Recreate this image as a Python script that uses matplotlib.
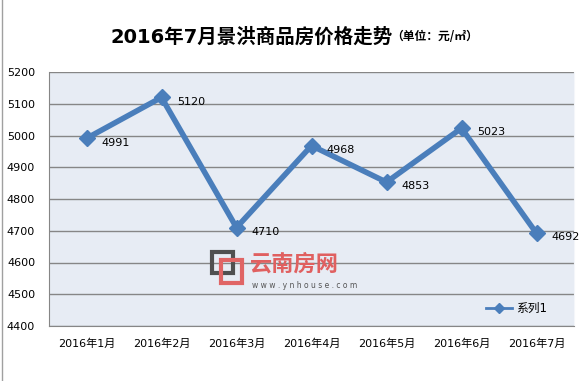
import matplotlib
matplotlib.use("Agg")
import matplotlib.pyplot as plt
from matplotlib.patches import Rectangle
from matplotlib.lines import Line2D

plt.rcParams['font.family'] = ['DejaVu Sans', 'Noto Sans CJK SC']

categories = ["2016年1月", "2016年2月", "2016年3月", "2016年4月", "2016年5月", "2016年6月", "2016年7月"]
prices = [4991, 5120, 4710, 4968, 4853, 5023, 4692]
yticks = [4400, 4500, 4600, 4700, 4800, 4900, 5000, 5100, 5200]
series_name = "系列1"
title_main = "2016年7月景洪商品房价格走势"
title_unit = "（单位：元/㎡）"

W, H = 582, 381
fig = plt.figure(figsize=(W / 100, H / 100), dpi=100)
fig.patch.set_facecolor("white")

def fx(px):
    return px / W

def fy(py):
    return 1 - py / H

left, right, top, bottom = 49, 574, 72, 326
ax = fig.add_axes([fx(left), fy(bottom), fx(right) - fx(left), fy(top) - fy(bottom)])
ax.set_facecolor("#E7ECF4")

blue = "#4A7EBB"
x = list(range(len(categories)))
ax.plot(x, prices, color=blue, lw=4, marker="D", markersize=8,
        markerfacecolor=blue, markeredgecolor=blue, zorder=3, solid_joinstyle="miter")

for xi, v in zip(x, prices):
    ax.annotate(str(v), (xi, v), xytext=(11, -3), textcoords="offset points",
                fontsize=8, color="#000000", va="center", ha="left", zorder=4)

ax.set_xlim(-0.5, len(categories) - 0.5)
ax.set_ylim(4400, 5200)
ax.set_yticks(yticks)
ax.set_yticklabels([str(t) for t in yticks])
ax.set_xticks(x)
ax.set_xticklabels(categories)
ax.tick_params(axis="y", length=0, pad=10, labelsize=8)
ax.tick_params(axis="x", length=0, pad=9, labelsize=8)

ax.grid(axis="y", color="#868686", lw=1, zorder=1)
ax.set_axisbelow(True)
ax.spines["top"].set_visible(False)
ax.spines["left"].set_color("#868686")
ax.spines["bottom"].set_color("#868686")
ax.spines["right"].set_color("#F4F6FA")

# legend
leg_handle = Line2D([0], [0], color=blue, lw=2, marker="D", markersize=5,
                    markerfacecolor=blue, markeredgecolor=blue)
leg = ax.legend([leg_handle], [series_name], loc="lower right", bbox_to_anchor=(0.97, 0.0),
                frameon=False, fontsize=8.5, handlelength=2.2, handletextpad=0.4)

# title
fig.text(fx(393), fy(37), title_main, ha="right", va="center", fontsize=14,
         fontweight="bold", family=["DejaVu Sans", "Noto Sans CJK SC"])
fig.text(fx(391), fy(37), title_unit, ha="left", va="center", fontsize=8.5,
         fontweight="bold", family=["Noto Sans CJK SC", "DejaVu Sans"])

# watermark logo
fig.add_artist(Rectangle((fx(212), fy(273)), fx(233) - fx(212), fy(252) - fy(273),
                         transform=fig.transFigure, fill=False, ec="#505050", lw=3, zorder=5))
fig.add_artist(Rectangle((fx(221), fy(283)), fx(242) - fx(221), fy(260) - fy(283),
                         transform=fig.transFigure, fill=False, ec="#E06565", lw=3, zorder=5))
fig.text(fx(250), fy(264), "云南房网", ha="left", va="center", fontsize=16,
         color="#E06060", fontweight="bold", family=["Noto Sans CJK SC"], zorder=5)
fig.text(fx(252), fy(285), "w w w . y n h o u s e . c o m", ha="left", va="center",
         fontsize=5.5, color="#555555", zorder=5)

# left chart border
fig.add_artist(Line2D([fx(2), fx(2)], [0, 1], transform=fig.transFigure, color="#A0A0A0", lw=1))

fig.savefig("out.png", dpi=100)
